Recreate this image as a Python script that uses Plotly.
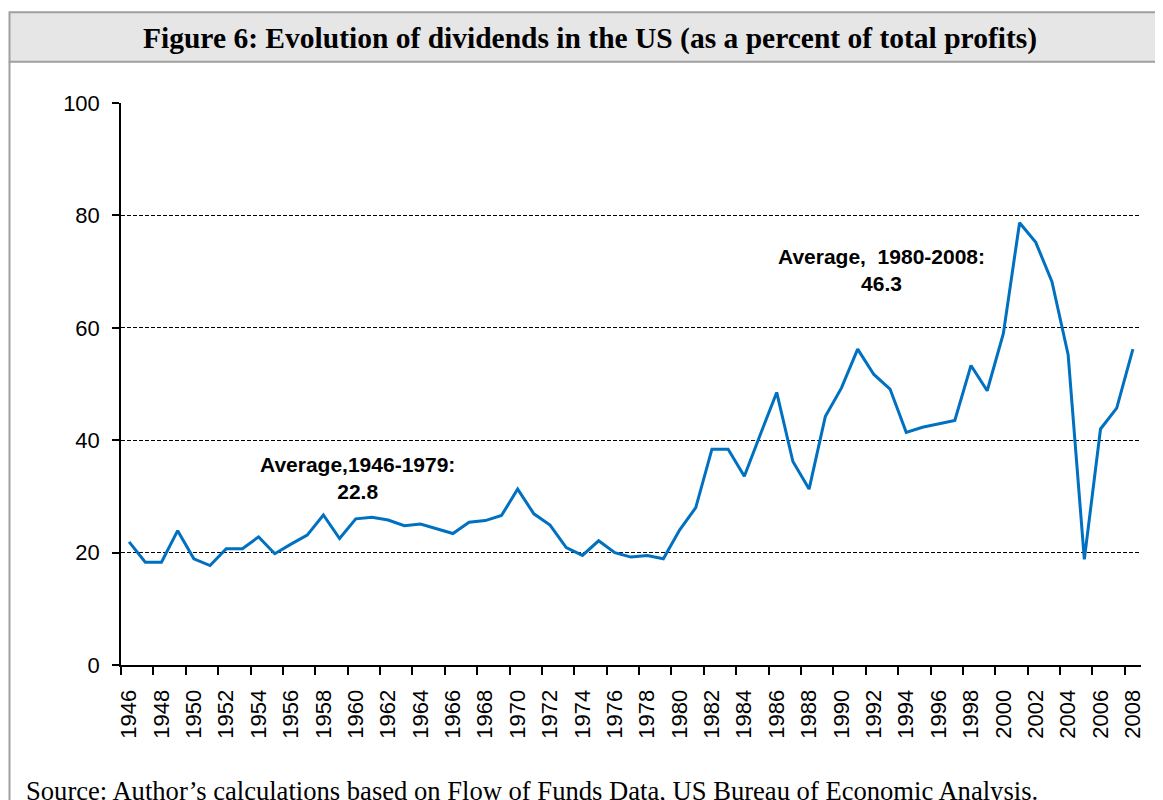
import plotly.graph_objects as go

years = list(range(1946, 2009))
dividend_share = [
    21.9, 18.3, 18.3, 23.9, 18.9, 17.7, 20.7, 20.7, 22.8, 19.8,
    21.5, 23.1, 26.7, 22.5, 26.0, 26.3, 25.8, 24.8, 25.1, 24.2,
    23.4, 25.4, 25.7, 26.6, 31.3, 26.9, 24.9, 20.9, 19.5, 22.1,
    20.0, 19.2, 19.5, 18.9, 24.0, 28.0, 38.4, 38.4, 33.6, 41.1,
    48.5, 36.2, 31.3, 44.2, 49.3, 56.2, 51.7, 49.1, 41.4, 42.3,
    42.9, 43.5, 53.3, 48.8, 59.0, 78.7, 75.2, 68.2, 55.2, 18.8,
    42.0, 45.7, 56.2,
]
label_years = years[::2]
y_ticks = [0, 20, 40, 60, 80, 100]

title_text = "Figure 6: Evolution of dividends in the US (as a percent of total profits)"
source_text = "Source: Author\u2019s calculations based on Flow of Funds Data, US Bureau of Economic Analysis."
avg1_text = "Average,1946-1979:<br>22.8"
avg2_text = "Average,  1980-2008:<br>46.3"

fig = go.Figure()
fig.add_trace(go.Scatter(
    x=years, y=dividend_share, mode="lines",
    line=dict(color="#0070C0", width=3),
    showlegend=False, hoverinfo="x+y",
))

# page offset of the figure inside the browser window
OFF = 8
W, H = 1163 - OFF, 800 - OFF
# plot area in window pixels: left 121, right 1141, top 103, bottom 665
L, T = 121 - OFF, 103 - OFF
R, B = W - (1141 - OFF), H - (665 - OFF)
pw, ph = W - L - R, H - T - B

def px(xs):
    return (xs - OFF - L) / pw

def py(ys):
    return (H - B - (ys - OFF)) / ph

border = "#a0a0a0"
fig.add_shape(type="rect", xref="paper", yref="paper",
              x0=px(9.5), x1=px(1185), y0=py(61.7), y1=py(12.3),
              fillcolor="#e6e6e6", line=dict(color=border, width=2), layer="below")
fig.add_shape(type="line", xref="paper", yref="paper",
              x0=px(9.5), x1=px(9.5), y0=py(61.7), y1=py(815),
              line=dict(color=border, width=2))

fig.add_annotation(text="<b>" + title_text + "</b>", xref="paper", yref="paper",
                   x=px(590), y=py(38), xanchor="center", yanchor="middle",
                   showarrow=False, font=dict(family="Liberation Serif", size=29.5, color="black"))
fig.add_annotation(text=source_text, xref="paper", yref="paper",
                   x=px(24), y=py(791), xanchor="left", yanchor="middle",
                   showarrow=False, font=dict(family="Liberation Serif", size=26.6, color="black"))
fig.add_annotation(text="<b>" + avg1_text + "</b>", xref="x", yref="y",
                   x=1960.1, y=33.3, xanchor="center", yanchor="middle", align="center",
                   showarrow=False, font=dict(family="Liberation Sans", size=21, color="black"))
fig.add_annotation(text="<b>" + avg2_text + "</b>", xref="x", yref="y",
                   x=1992.5, y=70.2, xanchor="center", yanchor="middle", align="center",
                   showarrow=False, font=dict(family="Liberation Sans", size=21, color="black"))

fig.update_layout(
    width=W, height=H,
    margin=dict(l=L, r=R, t=T, b=B, pad=0),
    paper_bgcolor="white", plot_bgcolor="white",
    font=dict(family="Liberation Sans", size=22, color="black"),
)
fig.update_xaxes(
    range=[1945.5, 2008.5],
    tickmode="array", tickvals=label_years, ticktext=[str(y) for y in label_years],
    tickangle=-90, ticks="", ticklabelstandoff=14,
    showline=True, linecolor="black", linewidth=2,
    showgrid=False, zeroline=False,
    minor=dict(tickmode="array", tickvals=[y - 0.5 for y in label_years],
               ticks="outside", ticklen=8, tickcolor="black", tickwidth=1.5, showgrid=False),
)
fig.update_yaxes(
    range=[0, 100], tickmode="array", tickvals=y_ticks,
    ticks="outside", ticklen=7, tickcolor="black", tickwidth=1.5, ticklabelstandoff=8,
    showline=True, linecolor="black", linewidth=1.5,
    showgrid=True, gridcolor="black", gridwidth=1, griddash="4px,2px",
    zeroline=False,
)

fig.write_html("out.html")
